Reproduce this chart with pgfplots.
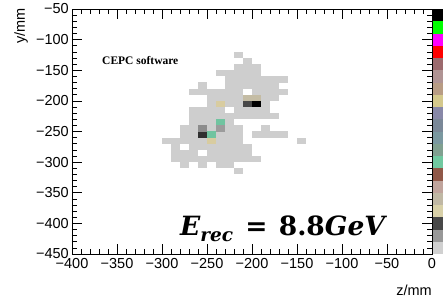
\documentclass[border=0pt]{standalone}
\usepackage[no-math]{fontspec}
\setmainfont{Liberation Sans}
\newfontfamily\timesfont{Liberation Serif}
\newfontfamily\eqfont{DejaVu Serif}
\usepackage{pgfplots}
\usepackage{pgfplotstable}
\pgfplotsset{compat=1.18}
\pgfdeclareplotmark{cellmark}{\pgfpathrectangle{\pgfqpoint{-4.6pt}{-3.15pt}}{\pgfqpoint{9.2pt}{6.3pt}}\pgfusepathqfill}
\definecolor{cg}{HTML}{CECECE}
\definecolor{ctan}{HTML}{D8CCA0}
\definecolor{cbeige}{HTML}{C4BCA4}
\definecolor{cdark}{HTML}{484848}
\definecolor{cdarker}{HTML}{303030}
\definecolor{cblack}{HTML}{000000}
\definecolor{cmint}{HTML}{70C4A0}
\definecolor{cmid}{HTML}{9C9C9C}
\definecolor{cmid2}{HTML}{8C8C8C}
\definecolor{pa}{HTML}{000000}
\definecolor{pb}{HTML}{00FF00}
\definecolor{pc}{HTML}{FF00FF}
\definecolor{pd}{HTML}{FF0000}
\definecolor{pe}{HTML}{9C6A6E}
\definecolor{pf}{HTML}{B09494}
\definecolor{pg}{HTML}{B89C84}
\definecolor{ph}{HTML}{D4C88C}
\definecolor{pi}{HTML}{8888A8}
\definecolor{pj}{HTML}{7A8898}
\definecolor{pk}{HTML}{7A98A0}
\definecolor{pl}{HTML}{80A090}
\definecolor{pm}{HTML}{70C8A0}
\definecolor{pn}{HTML}{905848}
\definecolor{po}{HTML}{C0A49C}
\definecolor{pp}{HTML}{C0B8A4}
\definecolor{pq}{HTML}{D8D0A8}
\definecolor{pr}{HTML}{484848}
\definecolor{ps}{HTML}{989898}
\definecolor{pt}{HTML}{D0D0D0}

\pgfplotstableread{
x y
-215 -125
-205 -135
-215 -145
-205 -145
-195 -145
-235 -155
-225 -155
-215 -155
-205 -155
-195 -155
-225 -165
-215 -165
-205 -165
-195 -165
-185 -165
-175 -165
-165 -165
-255 -175
-225 -175
-215 -175
-205 -175
-195 -175
-185 -175
-175 -175
-265 -185
-255 -185
-245 -185
-235 -185
-225 -185
-215 -185
-195 -185
-185 -185
-175 -185
-165 -185
-245 -195
-235 -195
-225 -195
-215 -195
-185 -195
-175 -195
-245 -205
-225 -205
-215 -205
-185 -205
-265 -215
-255 -215
-245 -215
-235 -215
-215 -215
-205 -215
-195 -215
-185 -215
-265 -225
-255 -225
-245 -225
-235 -225
-225 -225
-215 -225
-205 -225
-195 -225
-185 -225
-175 -225
-265 -235
-255 -235
-245 -235
-225 -235
-275 -245
-265 -245
-245 -245
-225 -245
-215 -245
-185 -245
-275 -255
-265 -255
-235 -255
-225 -255
-215 -255
-195 -255
-185 -255
-175 -255
-165 -255
-295 -265
-285 -265
-275 -265
-265 -265
-255 -265
-235 -265
-225 -265
-215 -265
-145 -265
-285 -275
-265 -275
-255 -275
-245 -275
-235 -275
-225 -275
-215 -275
-205 -275
-285 -285
-275 -285
-265 -285
-245 -285
-235 -285
-225 -285
-215 -285
-205 -285
-285 -295
-275 -295
-265 -295
-255 -295
-245 -295
-235 -295
-225 -295
-215 -295
-205 -295
-195 -295
-275 -305
-255 -305
-235 -305
-225 -305
-215 -315
}\graycells

\begin{document}
\begin{tikzpicture}
\begin{axis}[
  name=main, at={(0pt,0pt)}, anchor=south west,
  scale only axis, width=360pt, height=245pt,
  xmin=-400, xmax=0, ymin=-450, ymax=-50,
  xtick={-400,-350,-300,-250,-200,-150,-100,-50,0},
  ytick={-450,-400,-350,-300,-250,-200,-150,-100,-50},
  xticklabels={−400,−350,−300,−250,−200,−150,−100,−50,0},
  yticklabels={−450,−400,−350,−300,−250,−200,−150,−100,−50},
  minor x tick num=4, minor y tick num=4,
  tick align=inside, major tick length=10pt, minor tick length=5pt,
  tick style={black, line width=0.7pt},
  axis line style={black, line width=0.8pt},
  tick label style={font=\fontsize{14.5}{17}\selectfont},
  xticklabel style={inner sep=0pt, yshift=-4pt},
  yticklabel style={inner sep=0pt, xshift=-3pt},
]
\addplot[only marks, mark=cellmark, color=cg] table[x=x, y=y] {\graycells};
\addplot[only marks, mark=cellmark, color=ctan] coordinates {(-235,-205) (-245,-265)};
\addplot[only marks, mark=cellmark, color=cbeige] coordinates {(-205,-195) (-195,-195)};
\addplot[only marks, mark=cellmark, color=cdark] coordinates {(-205,-205)};
\addplot[only marks, mark=cellmark, color=cdarker] coordinates {(-255,-255)};
\addplot[only marks, mark=cellmark, color=cblack] coordinates {(-195,-205)};
\addplot[only marks, mark=cellmark, color=cmint] coordinates {(-235,-235) (-245,-255)};
\addplot[only marks, mark=cellmark, color=cmid] coordinates {(-235,-245)};
\addplot[only marks, mark=cellmark, color=cmid2] coordinates {(-255,-245)};
\end{axis}
\begin{axis}[
  at={(361pt,245pt)}, anchor=north west,
  scale only axis, width=10pt, height=245pt,
  xmin=-0.5, xmax=0.5, ymin=0, ymax=20,
  axis lines=none, ybar stacked, bar width=10pt,
]
\addplot[fill=pt, draw=none] coordinates {(0,1)};
\addplot[fill=ps, draw=none] coordinates {(0,1)};
\addplot[fill=pr, draw=none] coordinates {(0,1)};
\addplot[fill=pq, draw=none] coordinates {(0,1)};
\addplot[fill=pp, draw=none] coordinates {(0,1)};
\addplot[fill=po, draw=none] coordinates {(0,1)};
\addplot[fill=pn, draw=none] coordinates {(0,1)};
\addplot[fill=pm, draw=none] coordinates {(0,1)};
\addplot[fill=pl, draw=none] coordinates {(0,1)};
\addplot[fill=pk, draw=none] coordinates {(0,1)};
\addplot[fill=pj, draw=none] coordinates {(0,1)};
\addplot[fill=pi, draw=none] coordinates {(0,1)};
\addplot[fill=ph, draw=none] coordinates {(0,1)};
\addplot[fill=pg, draw=none] coordinates {(0,1)};
\addplot[fill=pf, draw=none] coordinates {(0,1)};
\addplot[fill=pe, draw=none] coordinates {(0,1)};
\addplot[fill=pd, draw=none] coordinates {(0,1)};
\addplot[fill=pc, draw=none] coordinates {(0,1)};
\addplot[fill=pb, draw=none] coordinates {(0,1)};
\addplot[fill=pa, draw=none] coordinates {(0,1)};
\end{axis}
\node[anchor=west, inner sep=0pt, font=\timesfont\bfseries\fontsize{11.5}{13}\selectfont] at (30pt,193pt) {CEPC software};
\node[anchor=base west, inner sep=0pt, font=\eqfont\bfseries\fontsize{26.5}{29}\selectfont] at (108pt,19pt) {\itshape E\raisebox{-6.5pt}{\fontsize{18.5}{20}\selectfont rec}\upshape\hspace{3pt} = \hspace{2pt}8.8\itshape GeV};
\node[rotate=90, anchor=south east, font=\fontsize{14.5}{17}\selectfont, inner sep=0pt] at (-44pt,246pt) {y/mm};
\node[anchor=base east, font=\fontsize{14.5}{17}\selectfont, inner sep=0pt] at (360pt,-41pt) {z/mm};
\pgfresetboundingbox
\path[use as bounding box] (-72pt,-47pt) rectangle (371pt,254pt);
\end{tikzpicture}
\end{document}
